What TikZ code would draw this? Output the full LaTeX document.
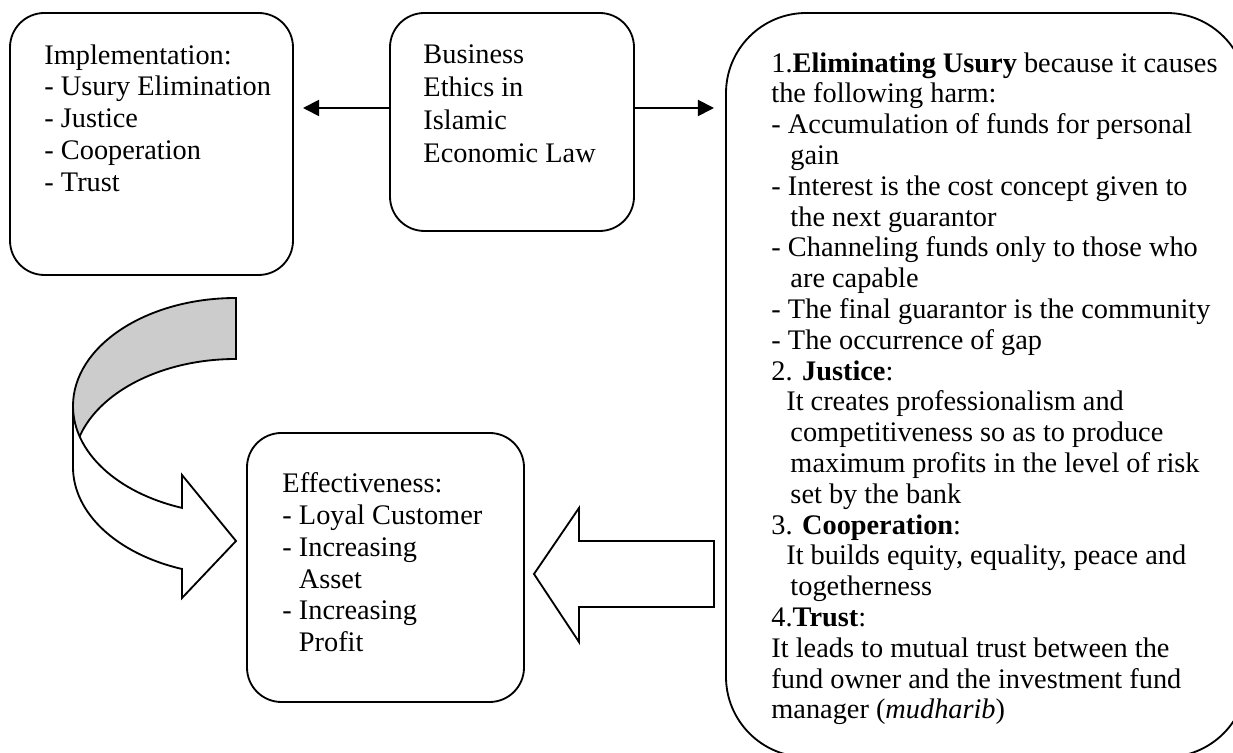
\documentclass[tikz,border=0pt]{standalone}
\usepackage{fontspec}
\setmainfont{Liberation Serif}
\usetikzlibrary{arrows.meta,fit}

\newcommand{\wrapind}{\hspace*{8.3pt}}
\newcommand{\subind}{\hspace*{6.5pt}}

\tikzset{
  box/.style={draw, line width=0.8pt, rounded corners=15pt, inner sep=0pt},
  bigbox/.style={box, rounded corners=35pt},
  txt/.style={anchor=north west, align=left, inner sep=0pt, font=\fontsize{12.35}{13.43}\selectfont},
  link/.style={line width=0.8pt, -{Triangle[length=7pt,width=7pt]}},
  band/.style={draw, line width=0.8pt}
}

\begin{document}
\begin{tikzpicture}[x=0.436pt, y=-0.436pt]
  \clip[use as bounding box] (0,0) rectangle (1233,753);

  \node[box, fit={(10,13) (293,275)}] (impl) {};
  \node[box, fit={(390,13) (634,231)}] (ethics) {};
  \node[bigbox, fit={(726,13) (1247,757)}] (harm) {};
  \node[box, fit={(247,433) (524,702)}] (effect) {};

  \node[txt, font=\fontsize{12.35}{13.9}\selectfont] (implText) at (44,44) {Implementation:\\- Usury Elimination\\- Justice\\- Cooperation\\- Trust};
  \node[txt, font=\fontsize{12.35}{14.5}\selectfont] (ethicsText) at (423,44) {Business\\Ethics in\\Islamic\\Economic Law};
  \node[txt, font=\fontsize{12.35}{13.9}\selectfont] (effectText) at (282,472) {Effectiveness:\\- Loyal Customer\\- Increasing\\\hphantom{- }Asset\\- Increasing\\\hphantom{- }Profit};
  \node[txt] (harmText) at (771,52) {1.\textbf{Eliminating Usury} because it causes\\
    the following harm:\\
    - Accumulation of funds for personal\\
    \wrapind gain\\
    - Interest is the cost concept given to\\
    \wrapind the next guarantor\\
    - Channeling funds only to those who\\
    \wrapind are capable\\
    - The final guarantor is the community\\
    - The occurrence of gap\\
    2. \textbf{Justice}:\\
    \subind It creates professionalism and\\
    \wrapind competitiveness so as to produce\\
    \wrapind maximum profits in the level of risk\\
    \wrapind set by the bank\\
    3. \textbf{Cooperation}:\\
    \subind It builds equity, equality, peace and\\
    \wrapind togetherness\\
    4.\textbf{Trust}:\\
    It leads to mutual trust between the\\
    fund owner and the investment fund\\
    manager (\textit{mudharib})};

  \coordinate (leftTip) at (303,108);
  \coordinate (rightTip) at (714,108);
  \draw[link] (ethics.west |- leftTip) -- (leftTip);
  \draw[link] (ethics.east |- rightTip) -- (rightTip);

  \path[band, fill=gray!40] (236,298) arc[start angle=270, end angle=180, x radius=163, y radius=108]
    -- (73,467) arc[start angle=180, end angle=270, x radius=163, y radius=108] -- cycle;
  \path[band, fill=white] (73,406) arc[start angle=180, end angle=109.35, x radius=163, y radius=108]
    -- (182,475) -- (236,541) -- (182,598) -- (182,569)
    arc[start angle=109.35, end angle=180, x radius=163, y radius=108] -- cycle;

  \path[band, fill=white] (714,541) -- (579,541) -- (579,508) -- (534,574) -- (579,642) -- (579,607) -- (714,607) -- cycle;
\end{tikzpicture}
\end{document}
